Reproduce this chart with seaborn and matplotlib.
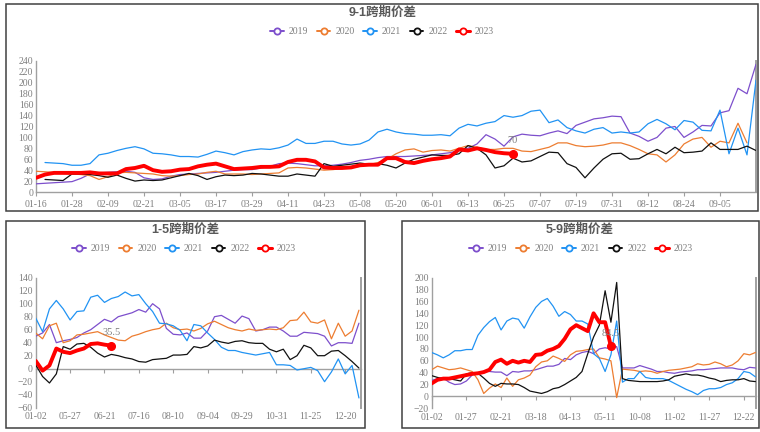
import numpy as np
import pandas as pd
import seaborn as sns
import matplotlib.pyplot as plt
from matplotlib.lines import Line2D
from matplotlib.patches import Rectangle

# ---- 9-1 spread (top) ----
top_ticks = ["01-16", "01-28", "02-09", "02-21", "03-05", "03-17", "03-29", "04-11", "04-23", "05-08",
             "05-20", "06-01", "06-13", "06-25", "07-07", "07-19", "07-31", "08-12", "08-24", "09-05"]
s91_2019 = [15, 16, 17, 18, 19, 25, 33, 35, 36, 37, 38, 36, 26, 23, 24, 29, 32, 33, 34, 35,
            36, 38, 40, 41, 41, 44, 47, 52, 53, 52, 50, 48, 48, 49, 51, 54, 58, 60, 63, 65,
            65, 65, 66, 67, 68, 70, 72, 76, 80, 88, 105, 97, 84, 101, 106, 104, 103, 108, 112, 107,
            122, 128, 134, 136, 139, 138, 108, 102, 93, 100, 117, 120, 100, 110, 122, 121, 145, 149, 190, 180,
            234]
s91_2020 = [38, 37, 36, 34, 33, 32, 30, 23, 28, 35, 36, 35, 34, 33, 30, 29, 30, 32, 33, 36,
            38, 33, 33, 33, 32, 33, 34, 35, 44, 45, 44, 42, 40, 41, 43, 45, 47, 50, 54, 60,
            70, 77, 79, 73, 76, 77, 75, 80, 85, 82, 78, 78, 80, 80, 75, 74, 78, 82, 90, 90,
            85, 83, 84, 86, 90, 90, 85, 78, 70, 68, 55, 68, 88, 97, 100, 82, 93, 90, 126, 90]
s91_2021 = [None, 54, 53, 52, 49, 49, 52, 68, 71, 76, 80, 83, 79, 71, 70, 68, 65, 65, 64, 69,
            75, 72, 68, 74, 77, 79, 78, 81, 86, 97, 89, 89, 93, 93, 88, 86, 88, 95, 110, 115,
            110, 107, 106, 104, 104, 105, 103, 117, 124, 121, 126, 129, 140, 137, 140, 148, 150, 127, 132, 118,
            112, 108, 115, 118, 108, 110, 108, 110, 125, 133, 125, 114, 131, 128, 113, 112, 150, 70, 117, 68,
            205]
s91_2022 = [None, 23, 22, 21, 33, 33, 32, 30, 27, 31, 25, 20, 22, 21, 22, 26, 30, 34, 30, 23,
            28, 31, 30, 31, 34, 33, 31, 29, 29, 33, 31, 29, 52, 47, 49, 51, 53, 51, 52, 49,
            44, 53, 60, 64, 68, 67, 67, 70, 85, 80, 68, 44, 48, 62, 55, 57, 65, 73, 72, 52,
            45, 26, 44, 60, 70, 71, 60, 61, 70, 78, 70, 82, 72, 73, 75, 90, 78, 78, 78, 84,
            76]
s91_2023 = [26, 32, 35, 35, 35, 35, 36, 34, 34, 34, 42, 44, 48, 40, 37, 38, 41, 42, 47, 50,
            52, 47, 42, 43, 44, 46, 46, 47, 55, 59, 59, 56, 45, 44, 44, 45, 49, 50, 50, 62,
            62, 55, 53, 57, 60, 62, 65, 78, 76, 80, 77, 73, 71, 70]

# ---- 1-5 spread (bottom left) ----
bl_ticks = ["01-02", "05-27", "06-21", "07-16", "08-10", "09-04", "09-29", "10-31", "11-25", "12-20"]
s15_2019 = [50, 55, 68, 40, 43, 45, 48, 55, 60, 68, 76, 72, 80, 83, 86, 91, 87, 100, 92, 62,
            53, 52, 55, 47, 47, 58, 80, 82, 76, 70, 81, 77, 58, 60, 64, 64, 58, 50, 50, 56,
            55, 54, 50, 35, 40, 40, 39, 70]
s15_2020 = [55, 46, 66, 70, 40, 43, 52, 53, 55, 57, 52, 48, 44, 43, 50, 53, 57, 60, 62, 70,
            63, 60, 61, 58, 62, 69, 73, 68, 63, 60, 58, 61, 59, 60, 61, 60, 63, 74, 75, 87,
            72, 70, 75, 46, 70, 50, 58, 90]
s15_2021 = [78, 57, 92, 105, 92, 75, 88, 89, 110, 113, 102, 108, 111, 118, 112, 114, 100, 88, 70, 69,
            66, 59, 43, 68, 66, 55, 45, 33, 28, 28, 25, 23, 21, 23, 25, 6, 6, 5, -2, 0,
            2, -3, -20, -5, 15, -8, 5, -45]
s15_2022 = [6, -12, -22, -8, 34, 30, 38, 39, 33, 24, 18, 22, 20, 17, 15, 11, 10, 14, 15, 16,
            21, 21, 22, 34, 32, 35, 44, 41, 39, 42, 43, 40, 39, 39, 30, 26, 30, 14, 20, 36,
            32, 20, 20, 27, 28, 20, 11, 1]
s15_2023 = [12, -3, 5, 31, 26, 24, 28, 31, 38, 39, 37, 35.5]

# ---- 5-9 spread (bottom right) ----
br_ticks = ["01-02", "01-27", "02-21", "03-18", "04-13", "05-11", "10-08", "11-02", "11-27", "12-22"]
s59_2019 = [27, 30, 31, 24, 20, 21, 26, 36, 40, 42, 42, 41, 41, 35, 42, 41, 43, 43, 45, 48,
            51, 51, 54, 64, 62, 70, 74, 76, 72, 80, 82, 80, 84, 48, 48, 48, 52, 49, 46, 42,
            42, 40, 39, 41, 42, 43, 45, 45, 46, 47, 48, 48, 48, 46, 45, 49, 48]
s59_2020 = [45, 51, 48, 45, 46, 48, 45, 42, 28, 5, 14, 21, 15, 31, 17, 28, 31, 36, 50, 58,
            60, 68, 64, 59, 70, 76, 77, 79, 80, 65, 63, 60, -2, 46, 45, 44, 42, 43, 42, 39,
            42, 44, 45, 46, 48, 50, 55, 53, 54, 58, 55, 50, 53, 60, 72, 70, 74]
s59_2021 = [74, 70, 65, 70, 77, 77, 79, 79, 103, 116, 126, 133, 112, 127, 132, 130, 115, 134, 150, 160,
            165, 152, 135, 143, 138, 127, 127, 122, 72, 64, 42, 70, 127, 24, 30, 30, 42, 32, 30, 30,
            30, 27, 22, 17, 12, 8, 3, 10, 13, 13, 15, 20, 23, 30, 42, 40, 33]
s59_2022 = [35, 32, 30, 30, 28, 26, 38, 40, 39, 31, 22, 17, 22, 21, 21, 20, 15, 9, 7, 5,
            8, 13, 15, 20, 26, 32, 42, 72, 100, 120, 178, 125, 192, 30, 27, 26, 25, 25, 25, 25,
            26, 28, 34, 36, 38, 36, 36, 34, 31, 29, 25, 27, 28, 28, 30, 26, 25]
s59_2023 = [22, 28, 30, 30, 32, 34, 36, 38, 39, 41, 45, 58, 62, 55, 60, 57, 60, 58, 70, 71,
            77, 80, 85, 97, 113, 120, 115, 110, 140, 125, 125, 84.5]

years = ["2019", "2020", "2021", "2022", "2023"]
colors = {"2019": "#7d4fcc", "2020": "#ed7d31", "2021": "#2193f3", "2022": "#111111", "2023": "#ff0000"}
gray = "#7f7f7f"

sns.set_theme(style="white")
plt.rcParams["font.family"] = ["Liberation Serif", "Noto Sans CJK SC", "DejaVu Sans"]

W, H = 760, 432
fig = plt.figure(figsize=(W / 100, H / 100), dpi=100)


def px(x0, y0, x1, y1):
    # pixel box (top-left origin) -> figure fraction rect
    return [x0 / W, 1 - y1 / H, (x1 - x0) / W, (y1 - y0) / H]


def draw_panel(frame, plot_box, title, title_xy, legend_xy, series, ticks, step, xmax, ylim, xpad):
    fig.add_artist(Rectangle(frame[:2], frame[2], frame[3], transform=fig.transFigure,
                             fill=False, ec="#404040", lw=1.1))
    ax = fig.add_axes(plot_box)
    for year, vals in zip(years, series):
        df = pd.DataFrame({"x": np.arange(len(vals)), "y": pd.to_numeric(pd.Series(vals))})
        lw = 2.8 if year == "2023" else 0.9
        sns.lineplot(data=df, x="x", y="y", color=colors[year], lw=lw, ax=ax,
                     zorder=5 if year == "2023" else 3)
    last = series[-1]
    ax.plot([len(last) - 1], [last[-1]], "o", color=colors["2023"], ms=5.5, zorder=6)
    ax.annotate(f"{last[-1]:g}", (len(last) - 1, last[-1]), xytext=(0, 6), textcoords="offset points",
                ha="center", va="bottom", fontsize=7.5, color=gray, zorder=7)

    ax.set_xlim(0, xmax)
    ax.set_ylim(*ylim)
    ax.set_yticks(np.arange(ylim[0], ylim[1] + 1, 20))
    ax.set_xlabel("")
    ax.set_ylabel("")
    pos = np.arange(len(ticks)) * step
    ax.set_xticks(pos)
    ax.tick_params(axis="x", bottom=True, length=3, width=0.8, color="#9e9e9e", labelbottom=False)
    ax.tick_params(axis="y", left=False, length=0, pad=2, labelsize=7, labelcolor=gray)
    ax.spines["top"].set_visible(False)
    ax.spines["bottom"].set_position(("data", 0))
    for s in ["left", "right", "bottom"]:
        ax.spines[s].set_color("#a0a0a0")
        ax.spines[s].set_linewidth(1.0)
    ax.spines["right"].set_linewidth(1.4)

    sec = ax.secondary_xaxis("bottom")
    sec.set_xticks(pos, labels=ticks)
    sec.tick_params(length=0, pad=xpad, labelsize=7, labelcolor=gray)
    sec.spines["bottom"].set_visible(False)

    fig.text(title_xy[0] / W, 1 - title_xy[1] / H, title, ha="center", va="center", fontsize=9,
             fontweight="bold", color="#595959", family=["Liberation Sans", "Noto Sans CJK SC"])
    handles = [Line2D([], [], color=colors[y], lw=2.2 if y == "2023" else 1.4, marker="o", ms=4.5,
                      mfc="white", mew=1.3) for y in years]
    fig.legend(handles, years, loc="center", bbox_to_anchor=(legend_xy[0] / W, 1 - legend_xy[1] / H),
               ncol=5, frameon=False, fontsize=7, labelcolor=gray, handlelength=1.4,
               handletextpad=0.5, columnspacing=0.9, borderpad=0)
    return ax


draw_panel(px(6, 4, 758, 211), px(36, 61, 756, 192), "9-1跨期价差", (383, 13), (382, 32),
           [s91_2019, s91_2020, s91_2021, s91_2022, s91_2023], top_ticks, 4, 80, (0, 240), 5.5)
draw_panel(px(6, 221, 365, 428), px(35.7, 277.7, 361, 407.7), "1-5跨期价差", (185, 230), (184, 249),
           [s15_2019, s15_2020, s15_2021, s15_2022, s15_2023], bl_ticks, 5, 47.3, (-60, 140), 3.3)
draw_panel(px(402, 221, 759, 428), px(431.7, 277.7, 756, 408.3), "5-9跨期价差", (580, 230), (581, 249),
           [s59_2019, s59_2020, s59_2021, s59_2022, s59_2023], br_ticks, 6, 56.1, (-20, 200), 3.3)

fig.savefig("out.png", dpi=100, facecolor="white")
